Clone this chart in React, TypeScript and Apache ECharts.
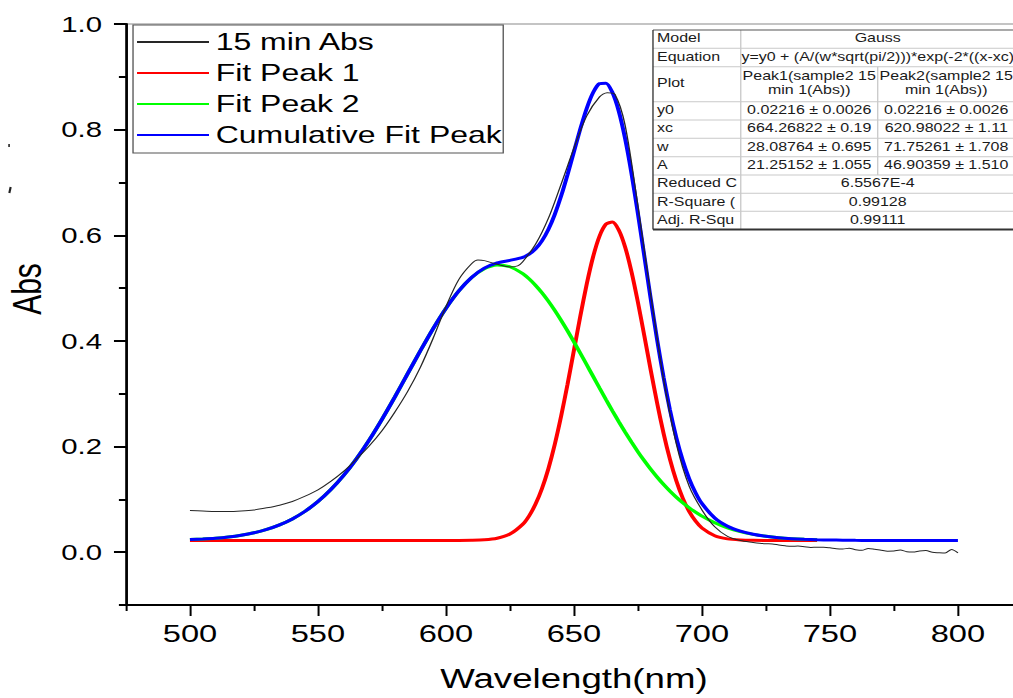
import React, { useEffect, useRef } from "react";
import * as echarts from "echarts";

// ---------- data ----------
// wavelengths of the fitted curves (finer sampling around the peaks)
const fitWavelengths = [
  500, 505, 510, 515, 520, 525, 530, 535, 540, 545, 550, 555, 560, 565, 570, 575, 580, 585, 590, 595,
  600, 605, 610, 615, 620, 625,
  630, 632.5, 635, 637.5, 640, 642.5, 645, 647.5, 650, 652.5, 655, 657.5, 660, 662.5, 665, 667.5, 670,
  672.5, 675, 677.5, 680, 682.5, 685, 687.5, 690, 692.5, 695, 697.5, 700,
  705, 710, 715, 720, 725, 730, 735, 740, 745,
  750, 755, 760, 765, 770, 775, 780, 785, 790, 795, 800,
];

// Fit Peak 1 (500 .. 745 nm)
const peak1Values = [
  0.0222, 0.0222, 0.0222, 0.0222, 0.0222, 0.0222, 0.0222, 0.0222, 0.0222, 0.0222, 0.0222, 0.0222,
  0.0222, 0.0222, 0.0222, 0.0222, 0.0222, 0.0222, 0.0222, 0.0222, 0.0222, 0.0222, 0.0225, 0.0234,
  0.0264, 0.0343,
  0.0529, 0.0689, 0.091, 0.1203, 0.1578, 0.2038, 0.2577, 0.3181, 0.3824, 0.4471, 0.5077, 0.5596,
  0.5985, 0.621, 0.625, 0.61, 0.5776, 0.5306, 0.473, 0.4095, 0.3446, 0.2822, 0.2253, 0.1759, 0.1349,
  0.1023, 0.0773, 0.059, 0.0459,
  0.0312, 0.0252, 0.0231, 0.0224, 0.0222, 0.0222, 0.0222, 0.0222, 0.0222,
];

// Fit Peak 2 (500 .. 745 nm)
const peak2Values = [
  0.0239, 0.025, 0.0265, 0.0288, 0.0321, 0.0367, 0.0431, 0.0517, 0.063, 0.0775, 0.0958, 0.1183,
  0.1451, 0.1765, 0.2122, 0.2516, 0.2937, 0.3375, 0.3813, 0.4234, 0.4617, 0.4944, 0.5198, 0.5365,
  0.5435, 0.5404,
  0.5274, 0.5175, 0.5053, 0.4912, 0.4753, 0.4578, 0.4389, 0.419, 0.3981, 0.3767, 0.3548, 0.3328,
  0.3108, 0.2891, 0.2678, 0.2472, 0.2272, 0.2082, 0.19, 0.173, 0.1569, 0.1421, 0.1283, 0.1157, 0.1041,
  0.0937, 0.0842, 0.0758, 0.0683,
  0.0558, 0.0462, 0.039, 0.0337, 0.03, 0.0273, 0.0255, 0.0243, 0.0235,
];

// Cumulative Fit Peak (500 .. 800 nm)
const cumulativeValues = [
  0.0239, 0.025, 0.0265, 0.0288, 0.0321, 0.0367, 0.0431, 0.0517, 0.063, 0.0775, 0.0958, 0.1183,
  0.1451, 0.1765, 0.2122, 0.2516, 0.2937, 0.3375, 0.3813, 0.4234, 0.4617, 0.4944, 0.5201, 0.5377,
  0.5477, 0.5525,
  0.5581, 0.5642, 0.5741, 0.5894, 0.6109, 0.6394, 0.6744, 0.7149, 0.7583, 0.8016, 0.8403, 0.8702,
  0.8871, 0.888, 0.8706, 0.835, 0.7826, 0.7165, 0.6408, 0.5603, 0.4793, 0.402, 0.3314, 0.2694, 0.2168,
  0.1738, 0.1393, 0.1126, 0.092,
  0.0648, 0.0492, 0.0399, 0.0339, 0.03, 0.0273, 0.0255, 0.0243, 0.0235,
  0.023, 0.0227, 0.0224, 0.0223, 0.0222, 0.0222, 0.0222, 0.0222, 0.0222, 0.0222, 0.0222,
];

// Measured spectrum "15 min Abs"
const absWavelengths = [
  500, 505, 510, 515, 520, 525, 530, 535, 540, 545, 550, 555, 560, 565, 570, 575, 580, 585, 590, 595,
  600, 605, 610, 612.5, 615, 620, 625, 628, 630, 635, 640, 645, 650, 655, 660, 663, 666, 670, 675, 680,
  685, 690, 695, 700, 705, 710, 715, 720, 722.5, 725, 727.5, 730, 732.5, 735, 737.5, 740, 742.5, 745,
  747.5, 750, 752.5, 755, 757.5, 760, 762.5, 765, 767.5, 770, 772.5, 775, 777.5, 780, 782.5, 785,
  787.5, 790, 792.5, 795, 797.5, 800,
];
const absValues = [
  0.079, 0.078, 0.077, 0.077, 0.078, 0.08, 0.084, 0.089, 0.096, 0.106, 0.118, 0.134, 0.153, 0.176,
  0.201, 0.23, 0.265, 0.304, 0.35, 0.405, 0.465, 0.516, 0.546, 0.553, 0.552, 0.545, 0.54, 0.542,
  0.55, 0.583, 0.632, 0.697, 0.765, 0.826, 0.862, 0.87, 0.867, 0.808, 0.655, 0.487, 0.328, 0.205,
  0.125, 0.08, 0.048, 0.03, 0.022, 0.0185, 0.017, 0.016, 0.0155, 0.0136, 0.012, 0.011, 0.0115, 0.0104,
  0.009, 0.0095, 0.0095, 0.0083, 0.0065, 0.006, 0.0075, 0.0048, 0.0035, 0.007, 0.0055, 0.0036, 0.002,
  0.0023, 0.004, 0.001, 0.0005, 0.0023, 0.003, -0.0002, -0.001, -0.0015, 0.005, -0.0015,
];

const seriesNames = ["15 min Abs", "Fit Peak 1", "Fit Peak 2", "Cumulative Fit Peak"];

const xMajorTicks = [500, 550, 600, 650, 700, 750, 800];
const xMinorTicks = [475, 525, 575, 625, 675, 725, 775, 825];
const yMajorTicks = [0, 0.2, 0.4, 0.6, 0.8, 1.0];
const yMinorTicks = [-0.1, 0.1, 0.3, 0.5, 0.7, 0.9];

// Fit result table texts
const tableLabels = ["Model", "Equation", "Plot", "y0", "xc", "w", "A", "Reduced C", "R-Square (", "Adj. R-Squ"];
const tableModel = "Gauss";
const tableEquation = "y=y0 + (A/(w*sqrt(pi/2)))*exp(-2*((x-xc)";
const peak1Params = ["0.02216 \u00b1 0.0026", "664.26822 \u00b1 0.19", "28.08764 \u00b1 0.695", "21.25152 \u00b1 1.055"];
const peak2Params = ["0.02216 \u00b1 0.0026", "620.98022 \u00b1 1.11", "71.75261 \u00b1 1.708", "46.90359 \u00b1 1.510"];
const plotNames = [["Peak1(sample2 15", "min 1(Abs))"], ["Peak2(sample2 15", "min 1(Abs))"]];
const fitStats = ["6.5567E-4", "0.99128", "0.99111"];

// ---------- layout ----------
const W = 760;
const H = 698;
const S = 1013 / W; // the reference is stretched horizontally
const FONT = "'Liberation Sans', Arial, sans-serif";

function buildTable(): any[] {
  const left = 489.9;
  const right = 775;
  const c1 = 555.75;
  const c2 = 658.5;
  const rows = [30, 48.3, 66.7, 101.7, 120, 138.3, 156.7, 175, 193.3, 211.3, 229.5];
  const els: any[] = [];
  els.push({ type: "rect", shape: { x: left, y: rows[0], width: right - left, height: rows[10] - rows[0] }, style: { fill: "#fff" } });
  for (let i = 1; i < rows.length - 1; i++) {
    els.push({ type: "line", shape: { x1: left, y1: rows[i], x2: right, y2: rows[i] }, style: { stroke: "#c9c9c9", lineWidth: 1 } });
  }
  els.push({ type: "line", shape: { x1: c1, y1: rows[0], x2: c1, y2: rows[10] }, style: { stroke: "#c9c9c9", lineWidth: 1 } });
  els.push({ type: "line", shape: { x1: c2, y1: rows[2], x2: c2, y2: rows[7] }, style: { stroke: "#c9c9c9", lineWidth: 1 } });
  els.push({ type: "line", shape: { x1: left, y1: rows[0], x2: right, y2: rows[0] }, style: { stroke: "#555", lineWidth: 1 } });
  els.push({ type: "line", shape: { x1: left, y1: rows[0], x2: left, y2: rows[10] }, style: { stroke: "#333", lineWidth: 1 } });
  els.push({ type: "line", shape: { x1: left, y1: rows[10], x2: right, y2: rows[10] }, style: { stroke: "#333", lineWidth: 2 } });

  const txt = (text: string, x: number, y: number, align: string) => ({
    type: "text",
    x,
    y,
    style: { text, fill: "#1a1a1a", fontSize: 12, fontFamily: FONT, align, verticalAlign: "middle" },
  });
  const mid = (i: number) => (rows[i] + rows[i + 1]) / 2 - 1;
  tableLabels.forEach((t, i) => els.push(txt(t, left + 3, mid(i), "left")));
  const m1 = (c1 + c2) / 2;
  const m2 = (c2 + 761.3) / 2;
  const mAll = (c1 + 761.3) / 2;
  els.push(txt(tableModel, mAll, mid(0), "center"));
  els.push(txt(tableEquation, mAll, mid(1), "center"));
  els.push(txt(plotNames[0][0], m1, rows[2] + 9, "center"));
  els.push(txt(plotNames[0][1], m1, rows[2] + 23, "center"));
  els.push(txt(plotNames[1][0], m2, rows[2] + 9, "center"));
  els.push(txt(plotNames[1][1], m2, rows[2] + 23, "center"));
  peak1Params.forEach((t, i) => els.push(txt(t, m1, mid(3 + i), "center")));
  peak2Params.forEach((t, i) => els.push(txt(t, m2, mid(3 + i), "center")));
  fitStats.forEach((t, i) => els.push(txt(t, mAll, mid(7 + i), "center")));
  return els;
}

function buildOption(): any {
  const pairs = (xs: number[], ys: number[]) => ys.map((y, i) => [xs[i], y]);
  const lineSeries = (name: string, data: number[][], color: string, width: number, z: number, smooth: number) => ({
    type: "line",
    name,
    data,
    xAxisIndex: 0,
    yAxisIndex: 0,
    symbol: "none",
    showSymbol: false,
    smooth,
    silent: true,
    z,
    lineStyle: { color, width },
    itemStyle: { color },
  });

  return {
    animation: false,
    backgroundColor: "#fff",
    textStyle: { fontFamily: FONT },
    grid: {
      left: 94.5,
      right: -6.7,
      top: 24,
      bottom: 93,
      show: true,
      borderColor: "#8a8a8a",
      borderWidth: 1,
      backgroundColor: "transparent",
      containLabel: false,
      outerBoundsMode: "none",
    },
    legend: {
      show: true,
      data: seriesNames,
      orient: "vertical",
      left: 99.8,
      top: 25,
      padding: [5, 1, 6, 2],
      itemWidth: 54,
      itemHeight: 14,
      itemGap: 7,
      borderColor: "#555",
      borderWidth: 1,
      selectedMode: false,
      itemStyle: { opacity: 0 },
      textStyle: { fontSize: 24, lineHeight: 24, color: "#000", fontFamily: FONT },
    },
    xAxis: [
      {
        type: "value",
        position: "bottom",
        min: 475,
        max: 825,
        interval: 25,
        name: "Wavelength(nm)",
        nameLocation: "middle",
        nameGap: 60,
        nameTextStyle: { fontSize: 27.5, color: "#000", fontFamily: FONT },
        axisLine: { show: true, onZero: false, lineStyle: { color: "#000", width: 2 } },
        axisTick: { show: true, inside: false, length: 11, customValues: xMajorTicks, lineStyle: { color: "#000", width: 1.5 } },
        axisLabel: {
          show: true,
          customValues: xMajorTicks,
          margin: 16,
          fontSize: 24.5,
          color: "#000",
          fontFamily: "'Liberation Sans Narrow', 'Arial Narrow', 'Liberation Sans', sans-serif",
        },
        splitLine: { show: false },
      },
      {
        type: "value",
        position: "bottom",
        min: 475,
        max: 825,
        interval: 25,
        axisLine: { show: false, onZero: false },
        axisTick: { show: true, inside: false, length: 6, customValues: xMinorTicks, lineStyle: { color: "#000", width: 1.5 } },
        axisLabel: { show: false },
        splitLine: { show: false },
      },
    ],
    yAxis: [
      {
        type: "value",
        position: "left",
        min: -0.1,
        max: 1.0,
        interval: 0.1,
        name: "Abs",
        nameLocation: "middle",
        nameGap: 59,
        nameTextStyle: { fontSize: 30, color: "#000", fontFamily: FONT, padding: [0, 0, 0, 51] },
        axisLine: { show: true, onZero: false, lineStyle: { color: "#000", width: 2 } },
        axisTick: { show: true, inside: false, length: 9, customValues: yMajorTicks, lineStyle: { color: "#000", width: 2 } },
        axisLabel: {
          show: true,
          customValues: yMajorTicks,
          margin: 18,
          fontSize: 22,
          color: "#000",
          fontFamily: FONT,
          formatter: (v: number) => v.toFixed(1),
        },
        splitLine: { show: false },
      },
      {
        type: "value",
        position: "left",
        min: -0.1,
        max: 1.0,
        interval: 0.1,
        axisLine: { show: false, onZero: false },
        axisTick: { show: true, inside: false, length: 5.3, customValues: yMinorTicks, lineStyle: { color: "#000", width: 2 } },
        axisLabel: { show: false },
        splitLine: { show: false },
      },
    ],
    series: [
      lineSeries(seriesNames[1], pairs(fitWavelengths, peak1Values), "#ff0000", 3, 2, 0.25),
      lineSeries(seriesNames[2], pairs(fitWavelengths, peak2Values), "#00ff00", 3, 3, 0.25),
      lineSeries(seriesNames[3], pairs(fitWavelengths, cumulativeValues), "#0000ff", 3, 4, 0.25),
      lineSeries(seriesNames[0], pairs(absWavelengths, absValues), "#262626", 1, 5, 0.3),
    ],
    graphic: [
      {
        type: "group",
        x: 0,
        y: 0,
        z: 10,
        children: [
          ...buildTable(),
          { type: "line", shape: { x1: 6.8, y1: 144, x2: 6.8, y2: 147 }, style: { stroke: "#222", lineWidth: 1.2 } },
          { type: "line", shape: { x1: 8, y1: 187, x2: 7, y2: 193 }, style: { stroke: "#222", lineWidth: 1.6 } },
        ],
      },
    ],
  };
}

export default function App() {
  const ref = useRef<HTMLDivElement>(null);
  useEffect(() => {
    if (!ref.current) return;
    const chart = echarts.init(ref.current, null, { renderer: "svg" });
    chart.setOption(buildOption());
    return () => chart.dispose();
  }, []);
  return (
    <div
      ref={ref}
      style={{
        position: "fixed",
        left: 0,
        top: 0,
        width: W,
        height: H,
        transform: `scaleX(${S})`,
        transformOrigin: "0 0",
        background: "#fff",
      }}
    />
  );
}
